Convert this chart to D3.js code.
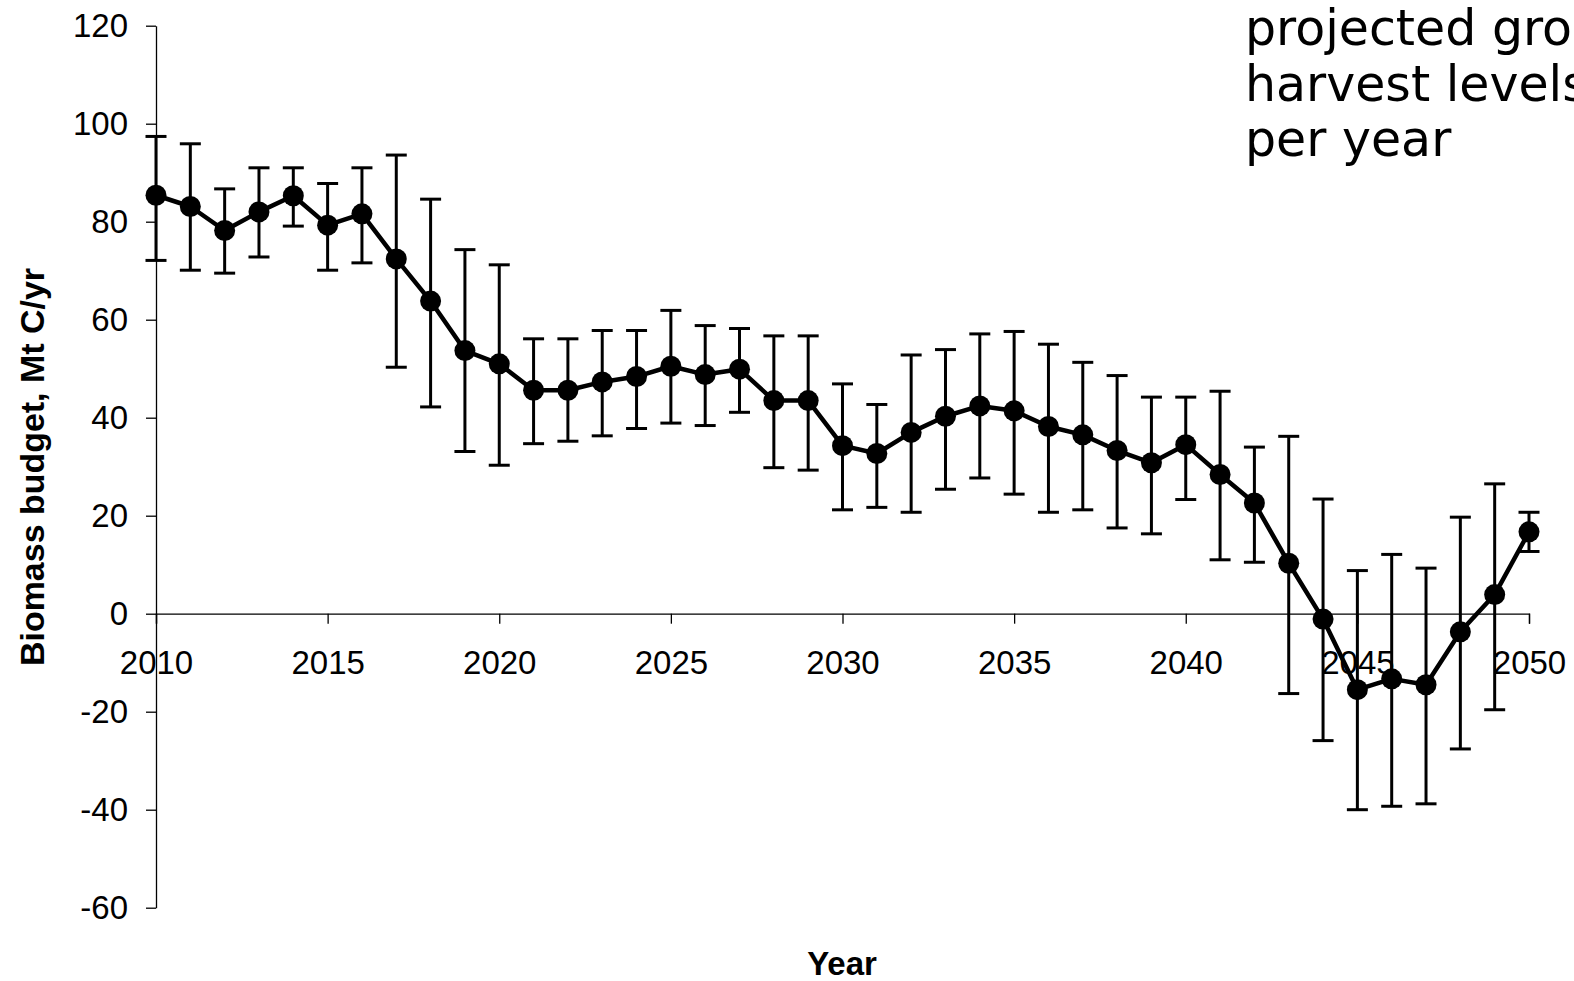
<!DOCTYPE html>
<html>
<head>
<meta charset="utf-8">
<script src="https://cdnjs.cloudflare.com/ajax/libs/d3/7.8.5/d3.min.js"></script>
<style>
  body { margin: 0; background: #fff; overflow: hidden; }
  svg { display: block; }
  .tick text { font-family: "Liberation Sans", Arial, sans-serif; font-size: 33px; fill: #000; }
  .tick line, .domain { stroke: #000; stroke-width: 1.3px; }
</style>
</head>
<body>
<div id="chart"></div>
<script>
const years = d3.range(2010, 2051);
const budget = [85.4, 83.1, 78.2, 82.0, 85.3, 79.3, 81.6, 72.4, 63.8, 53.7, 51.0,
  45.6, 45.6, 47.3, 48.4, 50.5, 48.8, 49.9, 43.5, 43.5, 34.3,
  32.7, 37.0, 40.3, 42.4, 41.4, 38.2, 36.5, 33.3, 30.8, 34.5,
  28.4, 22.6, 10.3, -1.1, -15.5, -13.3, -14.5, -3.7, 3.9, 16.7];
const errHigh = [97.4, 95.9, 86.7, 91.0, 91.0, 87.8, 91.0, 93.6, 84.6, 74.3, 71.2,
  56.1, 56.1, 57.8, 57.8, 61.9, 58.8, 58.2, 56.7, 56.7, 46.9,
  42.7, 52.8, 53.9, 57.1, 57.6, 55.0, 51.3, 48.6, 44.2, 44.2,
  45.4, 34.0, 36.2, 23.4, 8.8, 12.1, 9.3, 19.7, 26.5, 20.7];
const errLow = [72.1, 70.1, 69.5, 72.8, 79.1, 70.1, 71.6, 50.3, 42.2, 33.1, 30.3,
  34.7, 35.2, 36.3, 37.8, 38.9, 38.4, 41.1, 29.8, 29.3, 21.2,
  21.7, 20.7, 25.4, 27.7, 24.4, 20.7, 21.2, 17.5, 16.3, 23.3,
  11.0, 10.5, -16.3, -25.9, -40.0, -39.3, -38.8, -27.6, -19.6, 12.7];
const yTicks = [-60, -40, -20, 0, 20, 40, 60, 80, 100, 120];
const xTicks = [2010, 2015, 2020, 2025, 2030, 2035, 2040, 2045, 2050];
const noteLines = ["projected gro", "harvest levels", "per year"];

const w = 1574, h = 981;
const svg = d3.select("#chart").append("svg")
  .attr("width", w).attr("height", h);

const xScale = d3.scaleLinear().domain([2010, 2050]).range([156, 1529]);
const yScale = d3.scaleLinear().domain([-60, 120]).range([907.7, 25.7]);

// axes
svg.append("g")
  .attr("transform", "translate(156,0)")
  .call(d3.axisLeft(yScale).tickValues(yTicks).tickSize(10).tickSizeOuter(0)
    .tickPadding(18).tickFormat(d => String(d)));

svg.append("g")
  .attr("transform", "translate(0," + yScale(0) + ")")
  .call(d3.axisBottom(xScale).tickValues(xTicks).tickSize(10).tickSizeOuter(10)
    .tickPadding(27).tickFormat(d => String(d)));

// axis titles
svg.append("text")
  .attr("transform", "translate(44,467) rotate(-90)")
  .attr("text-anchor", "middle")
  .attr("textLength", 398)
  .attr("lengthAdjust", "spacingAndGlyphs")
  .style("font-family", "'Liberation Sans', Arial, sans-serif")
  .style("font-weight", "bold")
  .style("font-size", "34px")
  .text("Biomass budget, Mt C/yr");

svg.append("text")
  .attr("x", 842).attr("y", 975)
  .attr("text-anchor", "middle")
  .style("font-family", "'Liberation Sans', Arial, sans-serif")
  .style("font-weight", "bold")
  .style("font-size", "33px")
  .text("Year");

// note in the corner
svg.append("text")
  .style("font-family", "'DejaVu Sans', Verdana, sans-serif")
  .style("font-size", "49px")
  .selectAll("tspan")
  .data(noteLines)
  .enter()
  .append("tspan")
  .attr("x", 1245)
  .attr("y", (d, i) => 45 + i * 55.5)
  .text(d => d);

const data = years.map((yr, i) => ({ yr: yr, v: budget[i], hi: errHigh[i], lo: errLow[i] }));

// error bars
const bars = svg.append("g").attr("stroke", "#000").attr("stroke-width", 3);
bars.selectAll(".stem").data(data).enter().append("line")
  .attr("x1", d => xScale(d.yr)).attr("x2", d => xScale(d.yr))
  .attr("y1", d => yScale(d.hi)).attr("y2", d => yScale(d.lo));
bars.selectAll(".capHi").data(data).enter().append("line")
  .attr("x1", d => xScale(d.yr) - 10.5).attr("x2", d => xScale(d.yr) + 10.5)
  .attr("y1", d => yScale(d.hi)).attr("y2", d => yScale(d.hi));
bars.selectAll(".capLo").data(data).enter().append("line")
  .attr("x1", d => xScale(d.yr) - 10.5).attr("x2", d => xScale(d.yr) + 10.5)
  .attr("y1", d => yScale(d.lo)).attr("y2", d => yScale(d.lo));

// line and markers
const line = d3.line().x(d => xScale(d.yr)).y(d => yScale(d.v));
svg.append("path")
  .datum(data)
  .attr("d", line)
  .attr("fill", "none")
  .attr("stroke", "#000")
  .attr("stroke-width", 4.5)
  .attr("stroke-linejoin", "round");

svg.selectAll(".dot").data(data).enter().append("circle")
  .attr("cx", d => xScale(d.yr))
  .attr("cy", d => yScale(d.v))
  .attr("r", 10.5)
  .attr("fill", "#000");
</script>
</body>
</html>
